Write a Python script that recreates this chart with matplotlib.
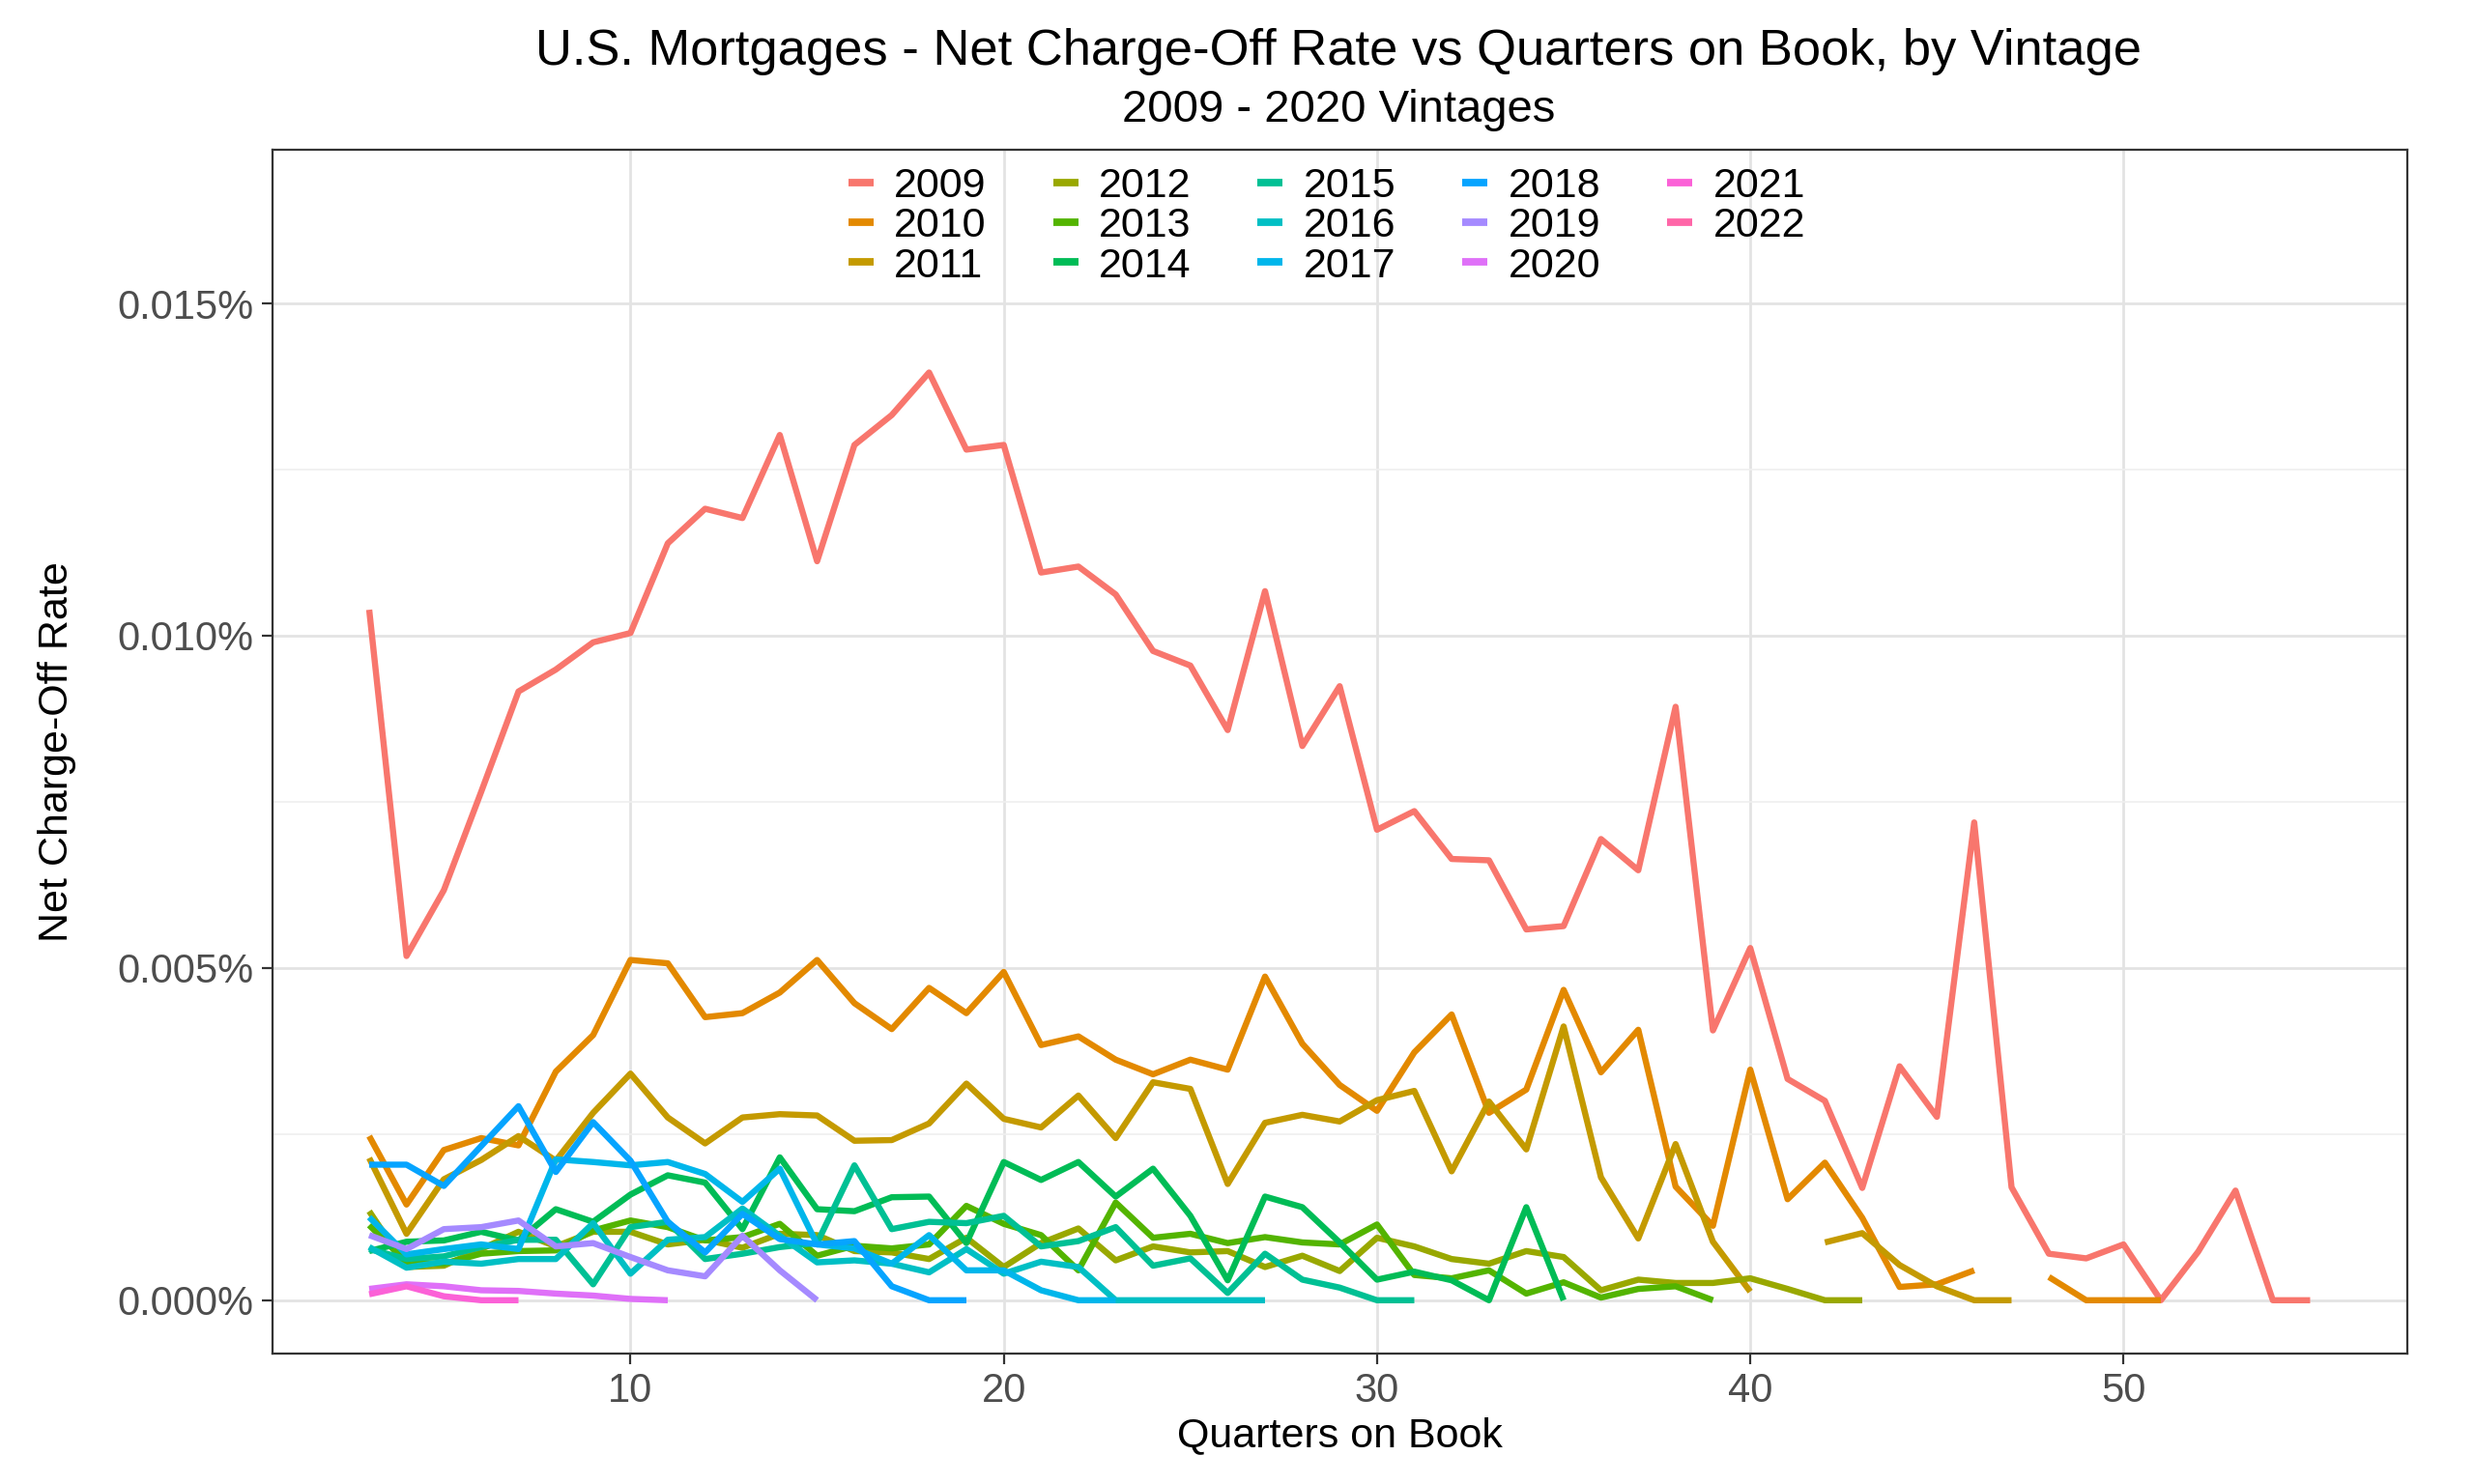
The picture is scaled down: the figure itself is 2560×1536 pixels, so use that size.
import numpy as np
import matplotlib.pyplot as plt
from matplotlib.ticker import FuncFormatter, MultipleLocator

plt.rcParams['font.family'] = ['Liberation Sans', 'DejaVu Sans']

# vintages and ggplot-style hue colours
vintages = ['2009', '2010', '2011', '2012', '2013', '2014', '2015',
            '2016', '2017', '2018', '2019', '2020', '2021', '2022']
colors = ['#F8766D', '#E38900', '#C49A00', '#99A800', '#53B400', '#00BC56', '#00C094',
          '#00BFC4', '#00B6EB', '#06A4FF', '#A58AFF', '#DF70F8', '#FB61D7', '#FF66A8']

first_q = 3  # every vintage starts at quarter 3 on book
nan = np.nan

# net charge-off rate, in thousandths of a percent (1.0 = 0.001%), quarter 3 onward
nco_2009 = [10.39, 5.18, 6.17, 7.65, 9.16, 9.49, 9.90, 10.04, 11.39, 11.91, 11.77, 13.02, 11.12,
            12.87, 13.32, 13.96, 12.80, 12.87, 10.95, 11.04, 10.62, 9.77, 9.55, 8.58, 10.67, 8.34,
            9.24, 7.08, 7.36, 6.64, 6.62, 5.58, 5.63, 6.94, 6.47, 8.93, 4.06, 5.30, 3.33, 3.00,
            1.69, 3.52, 2.76, 7.19, 1.70, 0.70, 0.63, 0.84, 0.0, 0.73, 1.65, 0.0, 0.0]
nco_2010 = [2.47, 1.44, 2.26, 2.44, 2.33, 3.44, 3.99, 5.12, 5.07, 4.26, 4.32, 4.63, 5.12, 4.47,
            4.08, 4.70, 4.32, 4.94, 3.84, 3.97, 3.62, 3.40, 3.62, 3.47, 4.87, 3.86, 3.24, 2.85,
            3.73, 4.30, 2.82, 3.17, 4.67, 3.43, 4.07, 1.71, 1.12, 3.47, 1.52, 2.07, 1.24, 0.20,
            0.24, 0.45, nan, 0.35, 0.0, 0.0, 0.0]
nco_2011 = [2.14, 1.00, 1.82, 2.11, 2.47, 2.10, 2.82, 3.41, 2.75, 2.36, 2.75, 2.80, 2.78, 2.40,
            2.41, 2.66, 3.26, 2.73, 2.60, 3.08, 2.44, 3.28, 3.18, 1.75, 2.67, 2.79, 2.69, 3.01,
            3.15, 1.94, 2.99, 2.27, 4.12, 1.85, 0.93, 2.35, 0.88, 0.13, nan, 0.87, 1.01, 0.53,
            0.21, 0.0, 0.0]
nco_2012 = [1.34, 0.50, 0.52, 0.77, 1.03, 0.81, 1.03, 1.03, 0.84, 0.91, 0.79, 1.00, 0.98, 0.74,
            0.72, 0.62, 0.94, 0.50, 0.86, 1.08, 0.60, 0.81, 0.72, 0.74, 0.50, 0.67, 0.44, 0.94,
            0.81, 0.62, 0.55, 0.74, 0.65, 0.15, 0.31, 0.26, 0.26, 0.33, 0.17, 0.0, 0.0]
nco_2013 = [1.13, 0.57, 0.55, 0.70, 0.74, 0.75, 1.05, 1.20, 1.10, 0.90, 0.95, 1.15, 0.67, 0.82,
            0.78, 0.84, 1.42, 1.15, 0.98, 0.45, 1.47, 0.94, 1.00, 0.86, 0.95, 0.87, 0.84, 1.14,
            0.38, 0.33, 0.45, 0.10, 0.27, 0.04, 0.17, 0.21, 0.0]
nco_2014 = [0.74, 0.88, 0.90, 1.03, 0.90, 1.37, 1.18, 1.59, 1.88, 1.77, 1.07, 2.15, 1.37, 1.34,
            1.55, 1.56, 0.86, 2.08, 1.81, 2.08, 1.56, 1.98, 1.27, 0.30, 1.56, 1.40, 0.87, 0.31,
            0.43, 0.30, 0.0, 1.40, 0.0]
nco_2015 = [0.77, 0.62, 0.66, 0.80, 0.91, 0.91, 0.24, 1.10, 1.18, 0.62, 0.70, 0.80, 0.86, 2.03,
            1.07, 1.18, 1.16, 1.27, 0.81, 0.89, 1.10, 0.52, 0.63, 0.11, 0.70, 0.31, 0.19, 0.0, 0.0]
nco_2016 = [0.80, 0.49, 0.58, 0.55, 0.62, 0.62, 1.16, 0.40, 0.91, 0.95, 1.38, 0.97, 0.57, 0.60,
            0.55, 0.42, 0.77, 0.40, 0.58, 0.50, 0.0, 0.0, 0.0, 0.0, 0.0]
nco_2017 = [1.25, 0.69, 0.77, 0.84, 0.77, 2.12, 2.08, 2.03, 2.08, 1.90, 1.48, 1.98, 0.84, 0.78,
            0.55, 0.98, 0.45, 0.45, 0.15, 0.0, 0.0]
nco_2018 = [2.04, 2.04, 1.72, 2.32, 2.92, 1.93, 2.68, 2.10, 1.18, 0.72, 1.30, 0.92, 0.84, 0.89,
            0.21, 0.0, 0.0]
nco_2019 = [0.98, 0.77, 1.07, 1.10, 1.20, 0.81, 0.86, 0.65, 0.45, 0.36, 0.97, 0.45, 0.0]
nco_2020 = [0.17, 0.24, 0.21, 0.15, 0.14, 0.10, 0.07, 0.02, 0.0]
nco_2021 = [0.09, 0.21, 0.06, 0.0, 0.0]
nco_2022 = [0.0]

series = [nco_2009, nco_2010, nco_2011, nco_2012, nco_2013, nco_2014, nco_2015,
          nco_2016, nco_2017, nco_2018, nco_2019, nco_2020, nco_2021, nco_2022]

fig = plt.figure(figsize=(12.8, 7.68), dpi=200)
ax = fig.add_axes([0.110, 0.088, 0.863, 0.811])

for name, col, vals in zip(vintages, colors, series):
    y = np.array(vals, dtype=float) / 1000.0   # to percent
    x = np.arange(first_q, first_q + len(y))
    ax.plot(x, y, color=col, lw=2.3, label=name, solid_joinstyle='round',
            solid_capstyle='butt', zorder=3)

ax.set_xlim(0.4, 57.6)
ax.set_ylim(-0.0008, 0.01731)
ax.xaxis.set_major_locator(MultipleLocator(10))
ax.yaxis.set_major_locator(MultipleLocator(0.005))
ax.yaxis.set_minor_locator(MultipleLocator(0.0025))
ax.yaxis.set_major_formatter(FuncFormatter(lambda v, p: f'{v:.3f}%'))

ax.grid(True, which='major', color='#E3E3E3', lw=1.0, zorder=0)
ax.grid(True, which='minor', axis='y', color='#EFEFEF', lw=0.6, zorder=0)
ax.set_axisbelow(True)
for s in ax.spines.values():
    s.set_color('#333333')
    s.set_linewidth(0.8)
ax.tick_params(axis='both', which='major', length=4, width=0.8, color='#333333',
               labelsize=15, labelcolor='#4D4D4D', pad=3)
ax.tick_params(axis='y', which='minor', length=0)

ax.set_xlabel('Quarters on Book', fontsize=15.5, labelpad=2)
ax.set_ylabel('Net Charge-Off Rate', fontsize=15.5, labelpad=15)

fig.text(0.541, 0.965, 'U.S. Mortgages - Net Charge-Off Rate vs Quarters on Book, by Vintage',
         ha='center', va='center', fontsize=18.9)
fig.text(0.541, 0.926, '2009 - 2020 Vintages', ha='center', va='center', fontsize=17)

leg = ax.legend(loc='upper center', bbox_to_anchor=(0.494, 1.003), ncol=5, frameon=False,
                fontsize=15.5, handlelength=0.6, handletextpad=0.5, columnspacing=1.6,
                labelspacing=0.03, borderpad=0.0)
for h in leg.get_lines():
    h.set_linewidth(2.8)

fig.savefig('out.png', dpi=200)
